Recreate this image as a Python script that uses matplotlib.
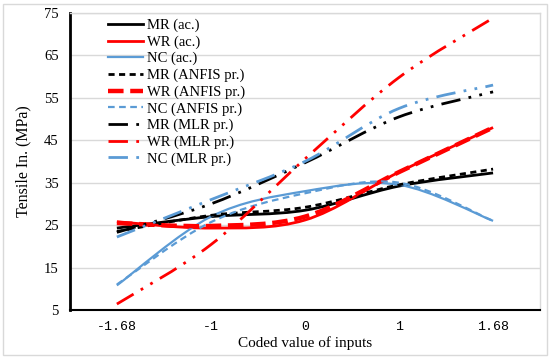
import numpy as np
import matplotlib
matplotlib.use('Agg')
from matplotlib import pyplot as plt
from matplotlib.path import Path
from matplotlib.patches import PathPatch
from matplotlib.lines import Line2D

# data
x_labels = ['-1.68', '-1', '0', '1', '1.68']

mr_ac = [24.3, 27.0, 28.5, 34.2, 37.3]
wr_ac = [25.8, 24.3, 26.2, 37.5, 48.0]
nc_ac = [10.8, 27.0, 33.0, 34.5, 26.0]

mr_anfis = [23.5, 27.3, 29.2, 34.5, 38.2]
wr_anfis = [25.5, 24.8, 27.0, 37.5, 48.0]
nc_anfis = [11.0, 25.7, 32.5, 35.0, 26.0]

mr_mlr = [23.3, 30.0, 39.7, 50.5, 56.4]
wr_mlr = [6.4, 20.4, 40.6, 59.8, 73.8]
nc_mlr = [22.2, 31.0, 40.0, 52.5, 58.0]

BLACK = 'black'
RED = '#ff0000'
BLUE = '#5b9bd5'
MLR_DASH = (0, (7, 3, 1, 3, 1, 3))

series = [
    ('MR (ac.)', mr_ac, BLACK, '-', 2.0),
    ('WR (ac.)', wr_ac, RED, '-', 2.0),
    ('NC (ac.)', nc_ac, BLUE, '-', 1.6),
    ('MR (ANFIS pr.)', mr_anfis, BLACK, (0, (2.2, 1.6)), 2.0),
    ('WR (ANFIS pr.)', wr_anfis, RED, (0, (3.5, 1.5)), 3.2),
    ('NC (ANFIS pr.)', nc_anfis, BLUE, (0, (3, 2)), 1.6),
    ('MR (MLR pr.)', mr_mlr, BLACK, MLR_DASH, 2.0),
    ('WR (MLR pr.)', wr_mlr, RED, MLR_DASH, 2.0),
    ('NC (MLR pr.)', nc_mlr, BLUE, MLR_DASH, 2.0),
]


def smooth_path(xs, ys):
    # excel-like smoothed line as cubic bezier segments
    pts = np.column_stack([xs, ys]).astype(float)
    n = len(pts)
    verts = [pts[0]]
    codes = [Path.MOVETO]
    for i in range(n - 1):
        p0 = pts[max(i - 1, 0)]
        p1 = pts[i]
        p2 = pts[i + 1]
        p3 = pts[min(i + 2, n - 1)]
        c1 = p1 + (p2 - p0) / 6.0
        c2 = p2 - (p3 - p1) / 6.0
        verts += [c1, c2, p2]
        codes += [Path.CURVE4] * 3
    return Path(verts, codes)


fig = plt.figure(figsize=(5.5, 3.59), dpi=100)
ax = fig.add_axes([0.127, 0.1365, 0.855, 0.8275])

xs = np.arange(len(x_labels))
handles = []
for name, vals, col, ls, lw in series:
    patch = PathPatch(smooth_path(xs, vals), fill=False, edgecolor=col,
                      linestyle=ls, linewidth=lw, capstyle='butt', zorder=3)
    ax.add_patch(patch)
    handles.append(Line2D([], [], color=col, linestyle=ls, linewidth=lw))

ax.set_xlim(-0.5, 4.5)
ax.set_ylim(5, 75)
ax.set_yticks(np.arange(5, 76, 10))
ax.set_xticks(xs)
ax.set_xticklabels(x_labels, family='Liberation Mono', fontsize=9.5)
for t in ax.get_yticklabels():
    t.set_family('Liberation Serif')
    t.set_fontsize(10.5)
ax.tick_params(length=0, pad=8)
ax.tick_params(axis='x', pad=8)
ax.grid(axis='y', color='#d9d9d9', linewidth=1)
ax.set_axisbelow(True)

ax.spines['left'].set_linewidth(2)
ax.spines['bottom'].set_linewidth(1.5)
for s in ['top', 'right']:
    ax.spines[s].set_color('#d9d9d9')
    ax.spines[s].set_linewidth(1)

ax.set_ylabel('Tensile In. (MPa)', family='Liberation Serif', fontsize=11.5, labelpad=9)
ax.set_xlabel('Coded value of inputs', family='Liberation Serif', fontsize=11, labelpad=2)

ax.legend(handles, [s[0] for s in series], loc='upper left',
          bbox_to_anchor=(0.053, 1.025), frameon=False, handlelength=2.4,
          handletextpad=0.25, labelspacing=0.22,
          prop={'family': 'Liberation Serif', 'size': 10.5})

fig.patches.append(plt.Rectangle((0.005, 0.01), 0.99, 0.98, transform=fig.transFigure,
                                 fill=False, edgecolor='#d9d9d9', linewidth=1))

fig.savefig('out.png', dpi=100)
